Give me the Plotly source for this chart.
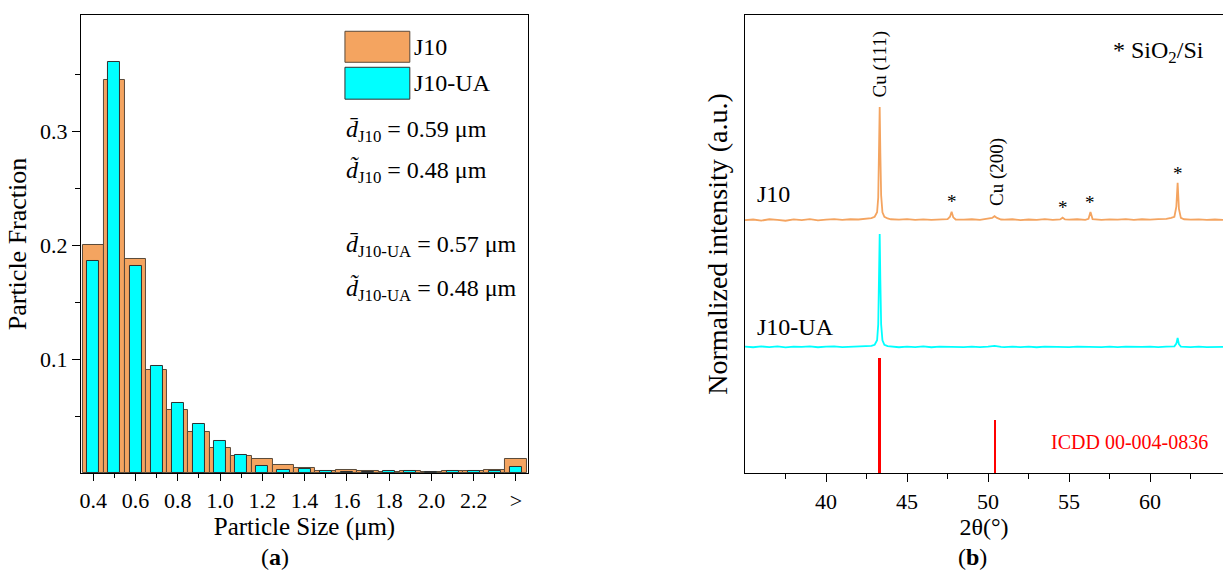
import plotly.graph_objects as go

# ---------------- Panel (a): particle size distribution ----------------
bin_centers = [0.4, 0.5, 0.6, 0.7, 0.8, 0.9, 1.0, 1.1, 1.2, 1.3, 1.4, 1.5, 1.6, 1.7,
               1.8, 1.9, 2.0, 2.1, 2.2, 2.3, 2.4]
bin_labels = ["0.4", "0.5", "0.6", "0.7", "0.8", "0.9", "1.0", "1.1", "1.2", "1.3",
              "1.4", "1.5", "1.6", "1.7", "1.8", "1.9", "2.0", "2.1", "2.2", "2.3", ">"]
frac_j10 = [0.200, 0.345, 0.188, 0.090, 0.0556, 0.0357, 0.0222, 0.0152, 0.0123, 0.0067,
            0.0047, 0.0015, 0.0026, 0.0015, 0.0010, 0.0015, 0.0010, 0.0015, 0.0020, 0.0030, 0.0123]
frac_j10ua = [0.1857, 0.361, 0.182, 0.094, 0.0617, 0.0433, 0.0278, 0.0158, 0.0064, 0.0023,
              0.0035, 0.0018, 0.0012, 0.0012, 0.0020, 0.0020, 0.0012, 0.0020, 0.0015, 0.0015, 0.0050]
stats_lines = [
    "<i>d\u0304</i><sub>J10</sub> = 0.59 \u03bcm",
    "<i>d\u0303</i><sub>J10</sub> = 0.48 \u03bcm",
    "<i>d\u0304</i><sub>J10-UA</sub> = 0.57 \u03bcm",
    "<i>d\u0303</i><sub>J10-UA</sub> = 0.48 \u03bcm",
]
stats_y = [0.300, 0.265, 0.199, 0.1614]

# ---------------- Panel (b): XRD ----------------
tt_j10 = [35.0, 35.5, 36.0, 36.5, 37.0, 37.5, 38.0, 38.5, 39.0, 39.5, 40.0, 40.5, 41.0, 41.5,
          42.0, 42.5, 42.8, 43.0, 43.15, 43.22, 43.27, 43.31, 43.35, 43.4, 43.48, 43.6, 43.8,
          44.0, 44.5, 45.0, 45.5, 46.0, 46.5, 47.0, 47.5, 47.65, 47.75, 47.85, 48.0, 48.5, 49.0,
          49.5, 50.0, 50.25, 50.4, 50.55, 50.8, 51.0, 51.5, 52.0, 52.5, 53.0, 53.5, 54.0, 54.45,
          54.6, 54.75, 55.0, 55.5, 56.0, 56.2, 56.32, 56.45, 56.7, 57.0, 57.5, 58.0, 58.5, 59.0,
          59.5, 60.0, 60.5, 61.0, 61.3, 61.5, 61.62, 61.7, 61.78, 61.9, 62.1, 62.5, 63.0, 63.5,
          64.0, 64.5]
int_j10 = [0.000, 0.006, -0.004, 0.008, 0.002, -0.005, 0.007, 0.001, 0.009, -0.002, 0.005, 0.010,
           0.003, 0.008, 0.006, 0.012, 0.018, 0.030, 0.070, 0.200, 0.650, 1.000, 0.600, 0.220,
           0.070, 0.030, 0.015, 0.008, 0.004, 0.009, 0.002, 0.007, 0.003, 0.008, 0.010, 0.030,
           0.075, 0.025, 0.006, 0.004, 0.008, 0.002, 0.010, 0.020, 0.035, 0.020, 0.006, 0.004,
           0.008, 0.001, 0.006, 0.003, 0.009, 0.002, 0.007, 0.022, 0.006, 0.004, 0.008, 0.003,
           0.012, 0.072, 0.010, 0.006, 0.002, 0.007, 0.004, 0.009, 0.003, 0.008, 0.005, 0.010,
           0.012, 0.020, 0.030, 0.120, 0.330, 0.100, 0.020, 0.008, 0.004, 0.007, 0.002, 0.006,
           0.003]

tt_j10ua = [35.0, 35.5, 36.0, 36.5, 37.0, 37.5, 38.0, 38.5, 39.0, 39.5, 40.0, 40.5, 41.0, 41.5,
            42.0, 42.5, 42.8, 43.0, 43.15, 43.22, 43.27, 43.31, 43.35, 43.4, 43.48, 43.6, 43.8,
            44.0, 44.5, 45.0, 45.5, 46.0, 46.5, 47.0, 47.5, 48.0, 48.5, 49.0, 49.5, 50.0, 50.4,
            50.8, 51.0, 51.5, 52.0, 52.5, 53.0, 53.5, 54.0, 54.5, 55.0, 55.5, 56.0, 56.5, 57.0,
            57.5, 58.0, 58.5, 59.0, 59.5, 60.0, 60.5, 61.0, 61.5, 61.62, 61.7, 61.78, 61.9, 62.5,
            63.0, 63.5, 64.0, 64.5]
int_j10ua = [0.004, -0.002, 0.005, 0.000, 0.006, -0.003, 0.004, 0.001, 0.006, -0.002, 0.003, 0.005,
             0.000, 0.004, 0.002, 0.006, 0.010, 0.020, 0.060, 0.200, 0.650, 1.000, 0.600, 0.200,
             0.060, 0.020, 0.008, 0.004, -0.002, 0.003, 0.000, 0.005, -0.002, 0.003, 0.001, 0.004,
             -0.001, 0.003, 0.000, 0.004, 0.010, 0.002, -0.001, 0.004, 0.000, 0.003, -0.002, 0.004,
             0.001, 0.003, -0.001, 0.004, 0.002, 0.005, 0.000, 0.003, -0.001, 0.004, 0.001, 0.002,
             0.004, 0.000, 0.003, 0.006, 0.030, 0.080, 0.025, 0.004, 0.000, 0.003, -0.001, 0.003,
             0.001]

icdd_tt = [43.3, 50.43]
icdd_int = [100, 46]

silica_peaks_tt = [47.75, 54.6, 56.32, 61.7]
silica_peaks_h = [0.075, 0.022, 0.072, 0.330]

# style constants
ORANGE = "#F4A460"
CYAN = "#00FFFF"
FONT = "Liberation Serif"
OFF_J10 = 5.52
OFF_UA = 2.75
SCALE = 2.47
ICDD_SCALE = 0.0251

fig = go.Figure()

fig.add_trace(go.Bar(x=bin_centers, y=frac_j10, width=0.1, name="J10",
                     marker=dict(color=ORANGE, line=dict(color="#5a4a3a", width=1)),
                     xaxis="x", yaxis="y", showlegend=False))
fig.add_trace(go.Bar(x=bin_centers, y=frac_j10ua, width=0.057, name="J10-UA",
                     marker=dict(color=CYAN, line=dict(color="#303030", width=1)),
                     xaxis="x", yaxis="y", showlegend=False))

fig.add_trace(go.Scatter(x=tt_j10, y=[OFF_J10 + SCALE * v for v in int_j10], mode="lines",
                         line=dict(color=ORANGE, width=1.8), name="J10",
                         xaxis="x2", yaxis="y2", showlegend=False))
fig.add_trace(go.Scatter(x=tt_j10ua, y=[OFF_UA + SCALE * v for v in int_j10ua], mode="lines",
                         line=dict(color=CYAN, width=1.8), name="J10-UA",
                         xaxis="x2", yaxis="y2", showlegend=False))
fig.add_trace(go.Bar(x=icdd_tt, y=[ICDD_SCALE * v for v in icdd_int], width=0.17,
                     marker=dict(color="#FF0000", line=dict(width=0)), name="ICDD 00-004-0836",
                     xaxis="x2", yaxis="y2", showlegend=False))

axis_common = dict(showline=True, linecolor="black", linewidth=1.3, ticks="outside",
                   tickcolor="black", tickwidth=1.2, showgrid=False, zeroline=False,
                   tickfont=dict(family=FONT, size=22, color="black"))

annotations = []
shapes = []

# legend boxes (panel a)
leg_items = [("J10", ORANGE, "#5a4a3a", 0.3877, 0.3605), ("J10-UA", CYAN, "#303030", 0.3561, 0.3281)]
for name, col, lc, y1, y0 in leg_items:
    shapes.append(dict(type="rect", xref="x", yref="y", x0=1.591, x1=1.898, y0=y0, y1=y1,
                       fillcolor=col, line=dict(color=lc, width=1)))
    annotations.append(dict(x=1.910, y=(y0 + y1) / 2, xref="x", yref="y", text=name,
                            showarrow=False, xanchor="left", yanchor="middle",
                            font=dict(family=FONT, size=24, color="black")))
for txt, yy in zip(stats_lines, stats_y):
    annotations.append(dict(x=1.585, y=yy, xref="x", yref="y", text=txt, showarrow=False,
                            xanchor="left", yanchor="middle",
                            font=dict(family=FONT, size=24, color="black")))

# panel b annotations
annotations += [
    dict(x=43.3, y=8.93, xref="x2", yref="y2", text="Cu (111)", textangle=-90, showarrow=False,
         font=dict(family=FONT, size=19, color="black")),
    dict(x=50.54, y=6.57, xref="x2", yref="y2", text="Cu (200)", textangle=-90, showarrow=False,
         font=dict(family=FONT, size=19, color="black")),
    dict(x=60.5, y=9.19, xref="x2", yref="y2", text="* SiO<sub>2</sub>/Si", showarrow=False,
         font=dict(family=FONT, size=24, color="black")),
    dict(x=35.62, y=6.09, xref="x2", yref="y2", text="J10", showarrow=False, xanchor="left",
         font=dict(family=FONT, size=24, color="black")),
    dict(x=35.62, y=3.19, xref="x2", yref="y2", text="J10-UA", showarrow=False, xanchor="left",
         font=dict(family=FONT, size=24, color="black")),
    dict(x=53.77, y=0.68, xref="x2", yref="y2", text="ICDD 00-004-0836", showarrow=False,
         xanchor="left", font=dict(family=FONT, size=20, color="#FF0000")),
    dict(x=0.2249, y=0.022, xref="paper", yref="paper", text="(<b>a</b>)", showarrow=False,
         xanchor="center", yanchor="middle", font=dict(family=FONT, size=24, color="black")),
    dict(x=0.795, y=0.022, xref="paper", yref="paper", text="(<b>b</b>)", showarrow=False,
         xanchor="center", yanchor="middle", font=dict(family=FONT, size=24, color="black")),
]
for t, h in zip(silica_peaks_tt, silica_peaks_h):
    annotations.append(dict(x=t, y=OFF_J10 + SCALE * h - 0.06, xref="x2", yref="y2", text="*",
                            showarrow=False, yanchor="bottom",
                            font=dict(family=FONT, size=19, color="black")))

fig.update_layout(
    width=1223, height=570, margin=dict(l=0, r=0, t=0, b=0),
    paper_bgcolor="white", plot_bgcolor="white", barmode="overlay", bargap=0,
    showlegend=False,
    xaxis=dict(axis_common, domain=[0.0662, 0.4317], range=[0.342, 2.457], mirror=True,
               tickvals=bin_centers[::2], ticktext=bin_labels[::2], ticklen=7,
               minor=dict(tickvals=bin_centers[1::2], ticklen=4, ticks="outside",
                          tickcolor="black", tickwidth=1.2),
               title=dict(text="Particle Size (\u03bcm)", standoff=3,
                          font=dict(family=FONT, size=25, color="black")),
               anchor="y"),
    yaxis=dict(axis_common, domain=[0.1702, 0.9737], range=[0, 0.402], mirror=True,
               tickvals=[0.1, 0.2, 0.3], ticktext=["0.1", "0.2", "0.3"], ticklen=8,
               minor=dict(tickvals=[0.05, 0.15, 0.25, 0.35], ticklen=5, ticks="outside",
                          tickcolor="black", tickwidth=1.2),
               title=dict(text="Particle Fraction", standoff=5,
                          font=dict(family=FONT, size=26, color="black")),
               anchor="x"),
    xaxis2=dict(axis_common, domain=[0.6092, 1.0], range=[35, 64.5], mirror=True,
                tickvals=[40, 45, 50, 55, 60], ticklen=8,
                minor=dict(tickvals=[37.5, 42.5, 47.5, 52.5, 57.5, 62.5], ticklen=5,
                           ticks="outside", tickcolor="black", tickwidth=1.2),
                title=dict(text="2\u03b8(\u00b0)", standoff=3,
                           font=dict(family=FONT, size=24, color="black")),
                anchor="y2"),
    yaxis2=dict(showline=True, linecolor="black", linewidth=1.3, ticks="", showticklabels=False,
                showgrid=False, zeroline=False, domain=[0.1702, 0.9737], range=[0, 10],
                title=dict(text="Normalized intensity (a.u.)", standoff=8,
                           font=dict(family=FONT, size=28, color="black")),
                anchor="x2"),
    annotations=annotations, shapes=shapes,
)

fig.write_html("out.html")
